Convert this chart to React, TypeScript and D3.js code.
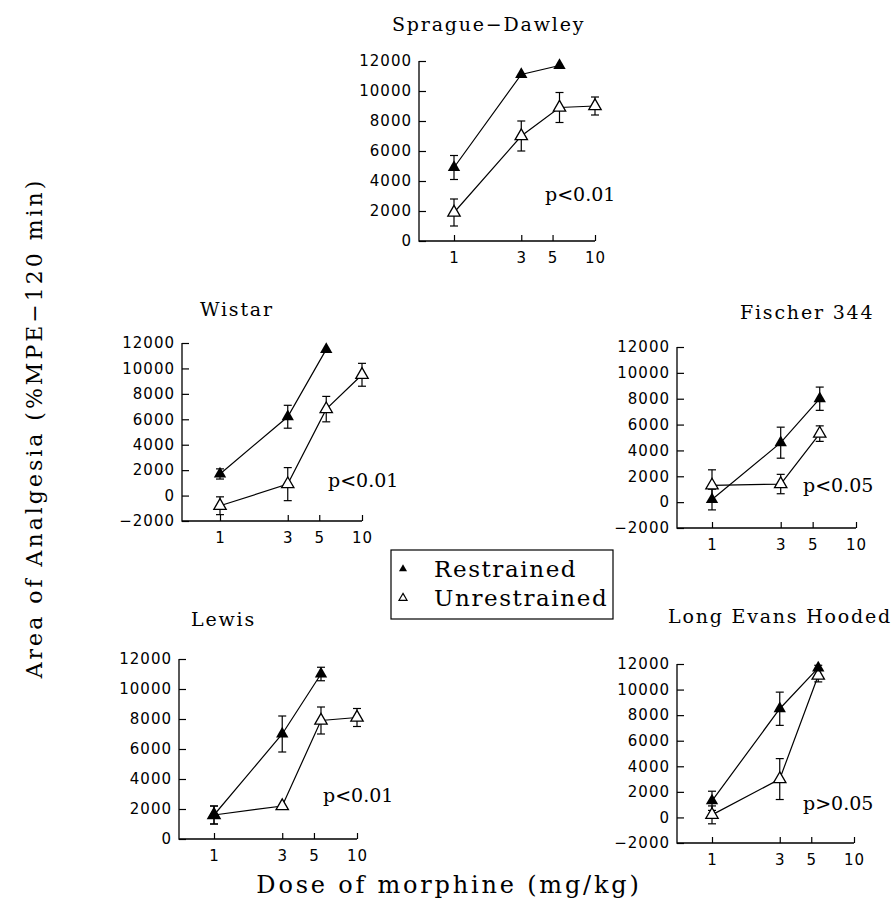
import React, { useEffect, useRef } from 'react';
import * as d3 from 'd3';

// doses of morphine (mg/kg), x positions of the points
const doses = [1, 3, 5.6, 10];
// x tick labels
const doseTicks = [1, 3, 5, 10];
// y ticks
const yTicksZero = [0, 2000, 4000, 6000, 8000, 10000, 12000];
const yTicksNeg = [-2000, 0, 2000, 4000, 6000, 8000, 10000, 12000];

// Sprague-Dawley
const sdRestrained = [4900, 11100, 11700];
const sdRestrainedSE = [800, 0, 0];
const sdUnrestrained = [1900, 7000, 8900, 9000];
const sdUnrestrainedSE = [900, 1000, 1000, 600];

// Wistar
const wiRestrained = [1700, 6200, 11500];
const wiRestrainedSE = [400, 900, 0];
const wiUnrestrained = [-800, 900, 6800, 9500];
const wiUnrestrainedSE = [700, 1300, 1000, 900];

// Fischer 344
const fiRestrained = [200, 4600, 8000];
const fiRestrainedSE = [800, 1200, 900];
const fiUnrestrained = [1300, 1400, 5300];
const fiUnrestrainedSE = [1200, 750, 600];

// Lewis
const leRestrained = [1600, 7000, 11000];
const leRestrainedSE = [600, 1200, 450];
const leUnrestrained = [1600, 2200, 7900, 8100];
const leUnrestrainedSE = [600, 0, 900, 600];

// Long Evans Hooded
const lhRestrained = [1300, 8500, 11700];
const lhRestrainedSE = [750, 1300, 200];
const lhUnrestrained = [200, 3000, 11100];
const lhUnrestrainedSE = [700, 1600, 500];

const legendLabels = ['Restrained', 'Unrestrained'];

// panel layout (pixels)
const panels = [
  {
    title: 'Sprague\u2212Dawley', p: 'p<0.01',
    r: sdRestrained, rSE: sdRestrainedSE, u: sdUnrestrained, uSE: sdUnrestrainedSE,
    yMin: 0, yTicks: yTicksZero,
    ax: 419, x1: 454, x10: 595, yTop: 61, yBottom: 241,
    tx: 392, ty: 31, px: 545, py: 201,
  },
  {
    title: 'Wistar', p: 'p<0.01',
    r: wiRestrained, rSE: wiRestrainedSE, u: wiUnrestrained, uSE: wiUnrestrainedSE,
    yMin: -2000, yTicks: yTicksNeg,
    ax: 182, x1: 220, x10: 362, yTop: 343, yBottom: 521,
    tx: 200, ty: 316, px: 328, py: 487,
  },
  {
    title: 'Fischer 344', p: 'p<0.05',
    r: fiRestrained, rSE: fiRestrainedSE, u: fiUnrestrained, uSE: fiUnrestrainedSE,
    yMin: -2000, yTicks: yTicksNeg,
    ax: 677, x1: 712, x10: 856, yTop: 347, yBottom: 528,
    tx: 740, ty: 319, px: 803, py: 492,
  },
  {
    title: 'Lewis', p: 'p<0.01',
    r: leRestrained, rSE: leRestrainedSE, u: leUnrestrained, uSE: leUnrestrainedSE,
    yMin: 0, yTicks: yTicksZero,
    ax: 179, x1: 214, x10: 357, yTop: 659, yBottom: 839,
    tx: 191, ty: 626, px: 323, py: 802,
  },
  {
    title: 'Long Evans Hooded', p: 'p>0.05',
    r: lhRestrained, rSE: lhRestrainedSE, u: lhUnrestrained, uSE: lhUnrestrainedSE,
    yMin: -2000, yTicks: yTicksNeg,
    ax: 677, x1: 712, x10: 854, yTop: 664, yBottom: 843,
    tx: 668, ty: 623, px: 803, py: 810,
  },
];

const serif = '"DejaVu Serif", serif';
const sans = '"DejaVu Sans", sans-serif';

const App = () => {
  const svgRef = useRef<SVGSVGElement>(null);

  useEffect(() => {
    const svg = d3.select(svgRef.current);
    svg.selectAll('*').remove();

    const tri = d3.symbol().type(d3.symbolTriangle);

    panels.forEach(p => {
      const x = d3.scaleLog().domain([1, 10]).range([p.x1, p.x10]);
      const y = d3.scaleLinear().domain([p.yMin, 12000]).range([p.yBottom, p.yTop]);
      const g = svg.append('g');

      // frame (left + bottom)
      g.append('path')
        .attr('d', `M${p.ax},${y(12000)}V${y(p.yMin)}H${x(10)}`)
        .attr('fill', 'none')
        .attr('stroke', '#000')
        .attr('stroke-width', 1.3);

      // y axis
      const ya = g.append('g')
        .attr('transform', `translate(${p.ax},0)`)
        .call(d3.axisLeft(y).tickValues(p.yTicks).tickSizeInner(-7).tickSizeOuter(0).tickPadding(7).tickFormat(d3.format('d')));
      ya.select('.domain').remove();
      ya.attr('font-family', sans).attr('font-size', 15);
      ya.selectAll('text').attr('letter-spacing', 1).attr('fill', '#000');
      ya.selectAll('line').attr('stroke', '#000').attr('stroke-width', 1.2);

      // x axis
      const xa = g.append('g')
        .attr('transform', `translate(0,${y(p.yMin)})`)
        .call(d3.axisBottom(x).tickValues(doseTicks).tickSizeInner(-6).tickSizeOuter(0).tickPadding(11).tickFormat(d3.format('d')));
      xa.select('.domain').remove();
      xa.attr('font-family', sans).attr('font-size', 15);
      xa.selectAll('text').attr('letter-spacing', 1).attr('fill', '#000');
      xa.selectAll('line').attr('stroke', '#000').attr('stroke-width', 1.2);

      const line = d3.line<number>()
        .x((d, i) => x(doses[i]))
        .y(d => y(d));

      [[p.u, p.uSE], [p.r, p.rSE]].forEach(([vals, se]) => {
        g.append('path')
          .datum(vals)
          .attr('d', line)
          .attr('fill', 'none')
          .attr('stroke', '#000')
          .attr('stroke-width', 1.2);

        const eb = g.selectAll(null)
          .data(vals.map((v, i) => ({ v, e: se[i], d: doses[i] })).filter(o => o.e > 0))
          .enter().append('g')
          .attr('stroke', '#000')
          .attr('stroke-width', 1.2);
        eb.append('line')
          .attr('x1', o => x(o.d)).attr('x2', o => x(o.d))
          .attr('y1', o => y(o.v - o.e)).attr('y2', o => y(o.v + o.e));
        eb.append('line')
          .attr('x1', o => x(o.d) - 4).attr('x2', o => x(o.d) + 4)
          .attr('y1', o => y(o.v + o.e)).attr('y2', o => y(o.v + o.e));
        eb.append('line')
          .attr('x1', o => x(o.d) - 4).attr('x2', o => x(o.d) + 4)
          .attr('y1', o => y(o.v - o.e)).attr('y2', o => y(o.v - o.e));
      });

      // unrestrained: open triangles
      g.selectAll(null)
        .data(p.u)
        .enter().append('path')
        .attr('d', tri.size(66)())
        .attr('transform', (d, i) => `translate(${x(doses[i])},${y(d)})`)
        .attr('fill', '#fff')
        .attr('stroke', '#000')
        .attr('stroke-width', 1.3);

      // restrained: filled triangles
      g.selectAll(null)
        .data(p.r)
        .enter().append('path')
        .attr('d', tri.size(66)())
        .attr('transform', (d, i) => `translate(${x(doses[i])},${y(d)})`)
        .attr('fill', '#000');

      g.append('text')
        .attr('x', p.tx).attr('y', p.ty)
        .attr('font-family', serif).attr('font-size', 19)
        .attr('letter-spacing', 1.8)
        .text(p.title);

      g.append('text')
        .attr('x', p.px).attr('y', p.py)
        .attr('font-family', serif).attr('font-size', 19)
        .text(p.p);
    });

    // legend
    const lg = svg.append('g').attr('transform', 'translate(391,550)');
    lg.append('rect')
      .attr('width', 222).attr('height', 69)
      .attr('fill', '#fff').attr('stroke', '#000').attr('stroke-width', 1.2);
    const item = lg.selectAll(null)
      .data(legendLabels)
      .enter().append('g')
      .attr('transform', (d, i) => `translate(0,${19 + i * 29})`);
    item.append('path')
      .attr('d', tri.size(28)())
      .attr('transform', 'translate(12,0)')
      .attr('fill', (d, i) => (i === 0 ? '#000' : '#fff'))
      .attr('stroke', '#000')
      .attr('stroke-width', (d, i) => (i === 0 ? 0 : 1.2));
    item.append('text')
      .attr('x', 43).attr('y', 8)
      .attr('font-family', serif).attr('font-size', 23)
      .attr('letter-spacing', 1.6)
      .text(d => d);

    // axis titles
    svg.append('text')
      .attr('transform', 'translate(42,428) rotate(-90)')
      .attr('text-anchor', 'middle')
      .attr('font-family', serif).attr('font-size', 22)
      .attr('letter-spacing', 3)
      .text('Area of Analgesia (%MPE\u2212120 min)');

    svg.append('text')
      .attr('x', 449).attr('y', 893)
      .attr('text-anchor', 'middle')
      .attr('font-family', serif).attr('font-size', 24)
      .attr('letter-spacing', 2.8)
      .text('Dose of morphine (mg/kg)');
  }, []);

  return (
    <svg
      ref={svgRef}
      width={895}
      height={914}
      style={{ position: 'absolute', left: 0, top: 0, background: '#fff' }}
    />
  );
};

export default App;
